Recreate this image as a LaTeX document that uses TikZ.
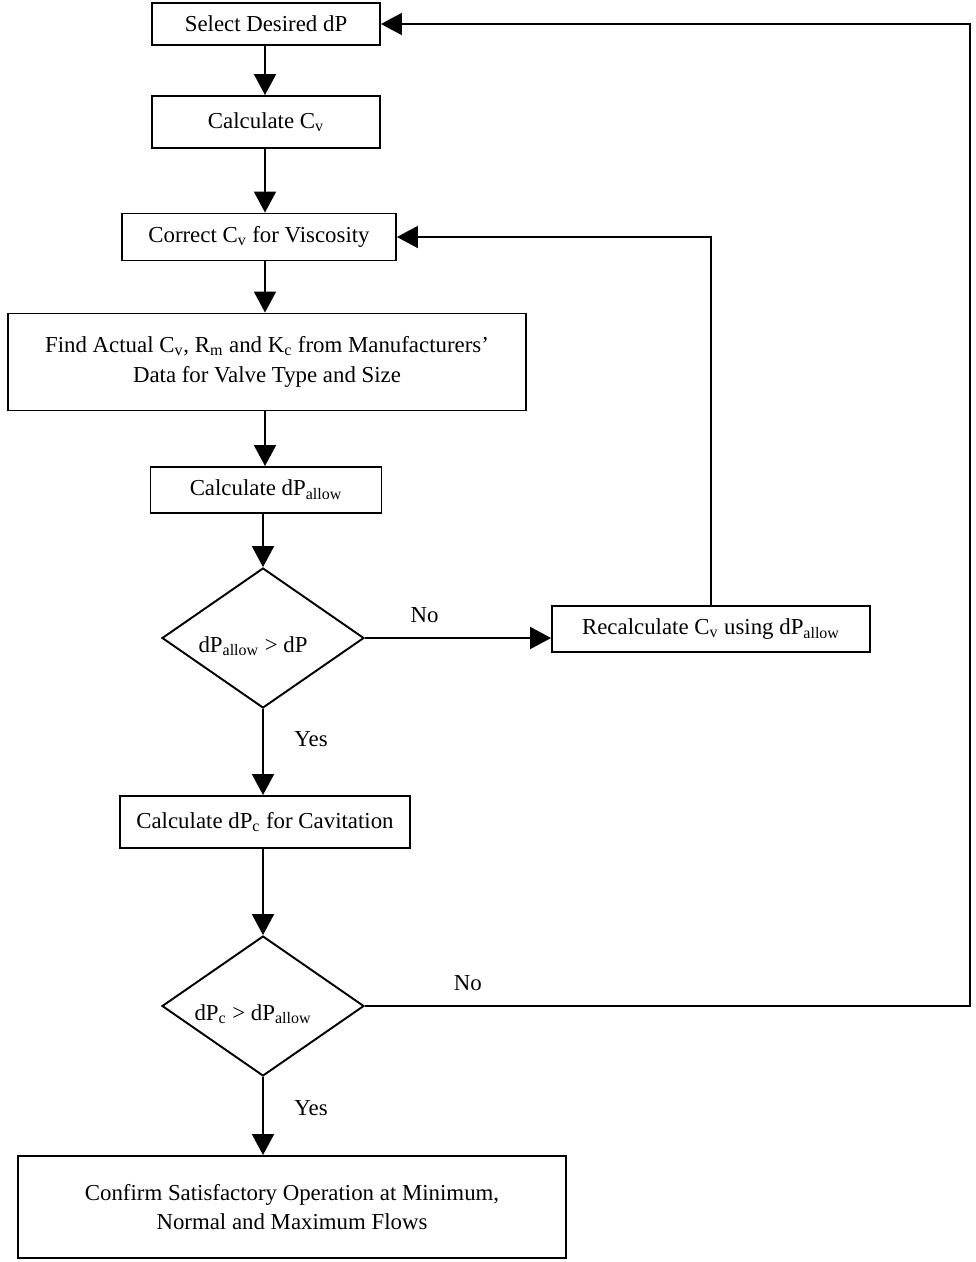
\documentclass[tikz,border=0pt]{standalone}
\usepackage{fontspec}
\setmainfont{Liberation Serif}
\usetikzlibrary{shapes.geometric,arrows.meta}
\newcommand{\subtxt}[1]{\textsubscript{#1}}

\begin{document}
\begin{tikzpicture}[
    x=0.02cm, y=-0.02cm,
    line width=1.1pt,
    font=\fontsize{13}{17}\selectfont,
    box/.style={%
      draw,
      rectangle,
      align=center,
      inner sep=0pt,
    },
    decision/.style={%
      draw,
      diamond,
      inner sep=0pt,
      minimum width=4.04cm,
      minimum height=2.8cm,
    },
    flow/.style={-{Triangle[length=0.42cm,width=0.44cm]}},
  ]
    \useasboundingbox (0,0) rectangle (976,1262);

    \node [box,minimum width=4.56cm,minimum height=0.84cm] (A) at (266,24) {Select Desired dP};
    \node [box,minimum width=4.56cm,minimum height=1.04cm] (B) at (266,122) {Calculate C\subtxt{v}};
    \node [box,minimum width=5.48cm,minimum height=0.94cm] (C) at (259,237) {Correct C\subtxt{v} for Viscosity};
    \node [box,minimum width=10.38cm,minimum height=1.94cm] (D) at (267,362)
      {Find Actual C\subtxt{v}, R\subtxt{m} and K\subtxt{c} from Manufacturers'\\Data for Valve Type and Size};
    \node [box,minimum width=4.62cm,minimum height=0.92cm] (E) at (266,490) {Calculate dP\subtxt{allow}};
    \node [decision] (F) at (263,638) {\hspace*{-0.4cm}\raisebox{-0.28cm}[0pt][0pt]{dP\subtxt{allow} > dP}};
    \node [box,minimum width=6.36cm,minimum height=0.92cm] (G) at (711,629) {Recalculate C\subtxt{v} using dP\subtxt{allow}};
    \node [box,minimum width=5.8cm,minimum height=1.04cm] (H) at (265,822) {Calculate dP\subtxt{c} for Cavitation};
    \node [decision] (I) at (263,1006) {\hspace*{-0.4cm}\raisebox{-0.28cm}[0pt][0pt]{dP\subtxt{c} > dP\subtxt{allow}}};
    \node [box,minimum width=10.98cm,minimum height=2.04cm] (J) at (292,1207)
      {Confirm Satisfactory Operation at Minimum,\\Normal and Maximum Flows};
    \coordinate (K) at (970,1006);

    \draw [flow] (A.south -| 265,0) -- (B.north -| 265,0);
    \draw [flow] (B.south -| 265,0) -- (C.north -| 265,0);
    \draw [flow] (C.south -| 265,0) -- (D.north -| 265,0);
    \draw [flow] (D.south -| 265,0) -- (E.north -| 265,0);
    \draw [flow] (E.south -| 263,0) -- (F.north);
    \draw [flow] (F.south) -- (H.north -| F.south) node [right,pos=0.35,xshift=14pt] {Yes};
    \draw [flow] (H.south -| 263,0) -- (I.north);
    \draw [flow] (I.south) -- (J.north -| I.south) node [right,pos=0.4,xshift=14pt] {Yes};
    \draw [flow] (F.east) -- (G.west |- F.east) node [above=5pt,pos=0.32] {No};
    \draw [flow] (G.north) |- (C.east);
    \draw [flow] (I.east) -- (K) node [above=5pt,pos=0.17] {No} |- (A.east);
\end{tikzpicture}
\end{document}
